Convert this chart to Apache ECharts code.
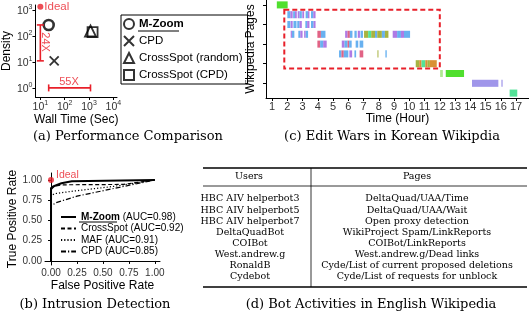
<!DOCTYPE html>
<html>
<head>
<meta charset="utf-8">
<script src="https://cdn.jsdelivr.net/npm/echarts@6/dist/echarts.min.js"></script>
<style>
  html, body { margin: 0; padding: 0; background: #fff; }
  #main { width: 529px; height: 313px; }
</style>
</head>
<body>
<div id="main"></div>
<script>
// (a) performance comparison
var perfMethods = ['M-Zoom', 'CPD', 'CrossSpot (random)', 'CrossSpot (CPD)'];
var perfTime = [22, 37, 1150, 1400];
var perfDensity = [265, 11, 155, 140];
var perfIdeal = [10, 1340];
var timeTicks = [10, 100, 1000, 10000];
var densityTicks = [1, 10, 100, 1000];

// (b) intrusion detection ROC
var rocNames = ['M-Zoom (AUC=0.98)', 'CrossSpot (AUC=0.92)', 'MAF (AUC=0.91)', 'CPD (AUC=0.85)'];
var rocFpr = [
  [0, 0, 0.02, 0.1, 0.2, 1],
  [0, 0, 0.03, 0.1, 0.7, 1],
  [0, 0, 0.03, 0.2, 0.6, 1],
  [0, 0, 0.05, 0.25, 1]
];
var rocTpr = [
  [0, 0.9, 0.92, 0.96, 0.985, 1],
  [0, 0.88, 0.92, 0.94, 0.945, 1],
  [0, 0.8, 0.83, 0.86, 0.92, 1],
  [0, 0.68, 0.72, 0.8, 1]
];
var rocIdeal = [0, 1];
var rateTicks = [0, 0.25, 0.5, 0.75, 1];

// (c) edit wars: [page row, start hour, end hour, user]
var pageIds = ['p0', 'p1', 'p2', 'p3', 'p4', 'p5', 'p6', 'p7', 'p8', 'p9'];
var editSessions = [
  [0, 1.31, 2.02, 0],
  [1, 2.0, 2.2, 1], [1, 2.2, 2.35, 2], [1, 2.38, 2.5, 1], [1, 2.5, 2.62, 2], [1, 2.68, 2.8, 2],
  [1, 2.8, 2.95, 1], [1, 2.98, 3.1, 2], [1, 3.2, 3.35, 1], [1, 3.35, 3.45, 2], [1, 3.55, 3.7, 1], [1, 3.7, 3.85, 2],
  [2, 2.0, 2.2, 1], [2, 2.22, 2.35, 2], [2, 2.4, 2.6, 1], [2, 2.65, 2.8, 1], [2, 2.8, 2.95, 2],
  [2, 3.18, 3.3, 1], [2, 3.3, 3.45, 2], [2, 3.55, 3.72, 1], [2, 3.72, 3.85, 2],
  [3, 2.22, 2.3, 2], [3, 2.3, 2.46, 1], [3, 2.72, 2.85, 1], [3, 2.85, 3.0, 2], [3, 3.1, 3.2, 2], [3, 3.2, 3.36, 1],
  [3, 3.97, 4.2, 3], [3, 4.2, 4.5, 1], [3, 5.79, 5.95, 2], [3, 5.95, 6.1, 3], [3, 6.1, 6.27, 1],
  [3, 6.4, 6.55, 1], [3, 6.62, 6.76, 2], [3, 6.8, 6.96, 1], [3, 7.03, 7.3, 4], [3, 7.3, 7.5, 6],
  [3, 7.5, 7.75, 4], [3, 7.75, 7.9, 1], [3, 7.9, 8.2, 4], [3, 8.2, 8.4, 1], [3, 8.4, 8.63, 4],
  [3, 8.91, 9.2, 2], [3, 9.2, 9.45, 1], [3, 9.45, 9.65, 2], [3, 9.65, 10.05, 1],
  [4, 3.97, 4.15, 3], [4, 4.15, 4.35, 1], [4, 4.35, 4.58, 2], [4, 5.57, 5.75, 2], [4, 5.75, 5.95, 1],
  [4, 5.95, 6.05, 3], [4, 6.05, 6.22, 1], [4, 6.48, 6.65, 1], [4, 6.74, 6.98, 1],
  [5, 5.39, 5.55, 1], [5, 5.55, 5.7, 3], [5, 5.7, 6.0, 1], [5, 6.07, 6.25, 2], [5, 6.4, 6.51, 1],
  [5, 6.74, 6.98, 3], [5, 7.91, 7.97, 4], [5, 8.43, 8.52, 1],
  [6, 10.42, 10.65, 4], [6, 10.65, 10.8, 5], [6, 10.8, 11.05, 6], [6, 11.05, 11.2, 5], [6, 11.2, 11.35, 4], [6, 11.35, 11.8, 5],
  [7, 12.02, 12.2, 8], [7, 12.39, 13.59, 0],
  [8, 14.11, 15.84, 7], [8, 16.04, 16.12, 7],
  [9, 16.58, 17.08, 6]
];
var warBox = [1.8, 12, 1, 6];
var hourTicks = [1, 2, 3, 4, 5, 6, 7, 8, 9, 10, 11, 12, 13, 14, 15, 16, 17];

// (d) bot activities table
var botUsers = ['HBC AIV helperbot3', 'HBC AIV helperbot5', 'HBC AIV helperbot7', 'DeltaQuadBot',
  'COIBot', 'West.andrew.g', 'RonaldB', 'Cydebot'];
var botPages = ['DeltaQuad/UAA/Time', 'DeltaQuad/UAA/Wait', 'Open proxy detection', 'WikiProject Spam/LinkReports',
  'COIBot/LinkReports', 'West.andrew.g/Dead links', 'Cyde/List of current proposed deletions',
  'Cyde/List of requests for unblock'];

var SANS = '"Liberation Sans", Arial, Helvetica, sans-serif';
var SERIF = '"DejaVu Serif", serif';
var RED = '#e8202a';
var userColors = ['#3ddc17', '#58a8ee', '#a66de2', '#de5278', '#9dab2c', '#d5841f', '#40df8c', '#968be8', '#a6e786'];

var chart = echarts.init(document.getElementById('main'));

function baseAxis(extra) {
  var ax = {
    axisLine: { show: true, lineStyle: { color: '#000', width: 1 } },
    axisTick: { show: true, length: 3, lineStyle: { color: '#000' } },
    axisLabel: { color: '#333', fontSize: 10, margin: 3, fontFamily: SANS },
    splitLine: { show: false },
    nameTextStyle: { fontSize: 12, color: '#000', fontFamily: SANS }
  };
  for (var k in extra) {
    if (typeof extra[k] === 'object' && !Array.isArray(extra[k]) && ax[k]) {
      ax[k] = Object.assign({}, ax[k], extra[k]);
    } else {
      ax[k] = extra[k];
    }
  }
  return ax;
}

var powLabel = {
  formatter: function (v) { return '{b|10}{s|' + Math.round(Math.log10(v)) + '}'; },
  rich: {
    b: { fontSize: 10.5, color: '#333', lineHeight: 13, verticalAlign: 'bottom' },
    s: { fontSize: 7, color: '#333', lineHeight: 13, verticalAlign: 'top' }
  }
};

var perfMarkers = [
  { symbol: 'circle', size: 10, width: 2.6 },
  { symbol: 'path://M0,0L10,10M10,0L0,10', size: 9, width: 1.8 },
  { symbol: 'triangle', size: 11, width: 1.8 },
  { symbol: 'rect', size: 10, width: 1.8 }
];

var series = [];

perfMethods.forEach(function (name, i) {
  series.push({
    name: name,
    type: 'scatter',
    xAxisIndex: 0, yAxisIndex: 0,
    symbol: perfMarkers[i].symbol,
    symbolSize: perfMarkers[i].size,
    itemStyle: { color: 'rgba(0,0,0,0)', borderColor: '#000', borderWidth: perfMarkers[i].width },
    data: [[perfTime[i], perfDensity[i]]]
  });
});

series.push({
  type: 'scatter', xAxisIndex: 0, yAxisIndex: 0,
  symbolSize: 6, itemStyle: { color: RED },
  label: { show: true, position: 'right', distance: 1, formatter: 'Ideal', color: RED, fontSize: 11.5, fontFamily: SANS },
  data: [perfIdeal]
});

// 24X gap between M-Zoom and CPD density
series.push({
  type: 'line', xAxisIndex: 0, yAxisIndex: 0,
  symbol: 'rect', symbolSize: [7, 1.6],
  lineStyle: { color: RED, width: 1.6 }, itemStyle: { color: RED },
  data: [[perfIdeal[0], perfDensity[0]], [perfIdeal[0], perfDensity[1]]]
});
// 55X gap between M-Zoom and CrossSpot time
series.push({
  type: 'line', xAxisIndex: 0, yAxisIndex: 0,
  symbol: 'rect', symbolSize: [1.6, 7],
  lineStyle: { color: RED, width: 1.6 }, itemStyle: { color: RED },
  data: [[perfTime[0], 1], [perfTime[2], 1]]
});
series.push({
  type: 'scatter', xAxisIndex: 0, yAxisIndex: 0, symbolSize: 0,
  label: { show: true, position: 'inside', color: RED, fontSize: 11, fontFamily: SANS,
    formatter: function (p) { return p.data[2]; }, rotate: 0 },
  data: [[150, 1.75, '55X']]
});
series.push({
  type: 'scatter', xAxisIndex: 0, yAxisIndex: 0, symbolSize: 0,
  label: { show: true, position: 'inside', color: RED, fontSize: 11, fontFamily: SANS,
    formatter: function (p) { return p.data[2]; }, rotate: -90 },
  data: [[15.5, 58, '24X']]
});

var rocStyles = [
  { width: 2, type: 'solid' },
  { width: 1.2, type: [4, 2.5] },
  { width: 1.2, type: [1.2, 2] },
  { width: 1.2, type: [5, 2, 1.2, 2] }
];
rocNames.forEach(function (name, i) {
  series.push({
    name: name,
    type: 'line', xAxisIndex: 1, yAxisIndex: 1,
    symbol: 'none', showSymbol: false,
    lineStyle: { color: '#000', width: rocStyles[i].width, type: rocStyles[i].type },
    itemStyle: { color: '#000' },
    data: rocFpr[i].map(function (f, j) { return [f, rocTpr[i][j]]; })
  });
});
series.push({
  type: 'scatter', xAxisIndex: 1, yAxisIndex: 1,
  symbolSize: 6, itemStyle: { color: RED },
  label: { show: true, position: 'right', distance: 2, offset: [0, -5], formatter: 'Ideal', color: RED, fontSize: 10.5, fontFamily: SANS },
  data: [rocIdeal]
});

series.push({
  type: 'custom', xAxisIndex: 2, yAxisIndex: 2,
  encode: { x: [1, 2], y: 0 },
  renderItem: function (params, api) {
    var a = api.coord([api.value(1), api.value(0)]);
    var b = api.coord([api.value(2), api.value(0)]);
    var h = api.size([0, 1])[1] * 0.72;
    return {
      type: 'rect',
      shape: { x: a[0], y: a[1] - h / 2, width: Math.max(b[0] - a[0], 1), height: h },
      style: { fill: userColors[api.value(3)], opacity: 0.9 }
    };
  },
  data: editSessions
});
series.push({
  type: 'custom', xAxisIndex: 2, yAxisIndex: 2,
  encode: { x: [0, 1], y: [2, 3] },
  renderItem: function (params, api) {
    var band = api.size([0, 1])[1];
    var a = api.coord([api.value(0), api.value(2)]);
    var b = api.coord([api.value(1), api.value(3)]);
    return {
      type: 'rect',
      shape: { x: a[0], y: a[1] - band / 2, width: b[0] - a[0], height: b[1] - a[1] + band },
      style: { fill: 'none', stroke: RED, lineWidth: 2, lineDash: [5, 3] }
    };
  },
  data: [warBox]
});

var graphic = [];
function caption(text, x, y) {
  graphic.push({ type: 'text', x: x, y: y,
    style: { text: text, font: '13px ' + SERIF, fill: '#000', align: 'center', verticalAlign: 'middle' } });
}
caption('(a) Performance Comparison', 128, 137);
caption('(c) Edit Wars in Korean Wikipdia', 392, 137);
caption('(b) Intrusion Detection', 95, 305);
caption('(d) Bot Activities in English Wikipedia', 371, 305);

function hline(x1, x2, y, w) {
  graphic.push({ type: 'line', shape: { x1: x1, y1: y, x2: x2, y2: y }, style: { stroke: '#000', lineWidth: w } });
}
hline(203, 527, 168, 1.5);
hline(203, 527, 186, 0.8);
hline(203, 527, 287, 1.5);
graphic.push({ type: 'line', shape: { x1: 311, y1: 168, x2: 311, y2: 287 }, style: { stroke: '#000', lineWidth: 0.8 } });
function cell(text, x, y) {
  graphic.push({ type: 'text', x: x, y: y,
    style: { text: text, font: '9.5px ' + SERIF, fill: '#000', align: 'center', verticalAlign: 'middle' } });
}
cell('Users', 249, 177);
cell('Pages', 417, 177);
botUsers.forEach(function (u, i) {
  cell(u, 250, 199 + i * 11.1);
  cell(botPages[i], 417, 199 + i * 11.1);
});
// underline M-Zoom in legends
hline(138, 179, 31, 1);
hline(79, 117, 222, 1);

chart.setOption({
  animation: false,
  backgroundColor: '#fff',
  textStyle: { fontFamily: SANS },
  grid: [
    { left: 33, top: 5, width: 84, height: 92 },
    { left: 45, top: 173, width: 115, height: 92 },
    { left: 266, top: 0, width: 263, height: 98 }
  ],
  xAxis: [
    baseAxis({ type: 'log', gridIndex: 0, min: 6.3, max: 14125,
      name: 'Wall Time (Sec)', nameLocation: 'middle', nameGap: 14,
      axisTick: { customValues: timeTicks },
      axisLabel: Object.assign({ customValues: timeTicks }, powLabel) }),
    baseAxis({ type: 'value', gridIndex: 1, min: -0.058, max: 1.05,
      name: 'False Positive Rate', nameLocation: 'middle', nameGap: 15,
      axisTick: { customValues: rateTicks },
      axisLabel: { customValues: rateTicks, formatter: function (v) { return v.toFixed(2); } } }),
    baseAxis({ type: 'value', gridIndex: 2, min: 0.6, max: 17.85,
      name: 'Time (Hour)', nameLocation: 'middle', nameGap: 13,
      axisTick: { customValues: hourTicks },
      axisLabel: { customValues: hourTicks, fontSize: 11 } })
  ],
  yAxis: [
    baseAxis({ type: 'log', gridIndex: 0, min: 0.447, max: 1550,
      name: 'Density', nameLocation: 'middle', nameGap: 20,
      axisTick: { customValues: densityTicks },
      axisLabel: Object.assign({ customValues: densityTicks }, powLabel) }),
    baseAxis({ type: 'value', gridIndex: 1, min: -0.05, max: 1.086,
      name: 'True Positive Rate', nameLocation: 'middle', nameGap: 24,
      axisTick: { customValues: rateTicks },
      axisLabel: { customValues: rateTicks, formatter: function (v) { return v.toFixed(2); } } }),
    baseAxis({ type: 'category', gridIndex: 2, data: pageIds, inverse: true,
      name: 'Wikipedia Pages', nameLocation: 'middle', nameGap: 9,
      axisTick: { alignWithLabel: true },
      axisLabel: { show: false } })
  ],
  legend: [
    {
      data: perfMethods, orient: 'vertical', left: 121, top: 15,
      padding: [3, 5, 3, 2], itemWidth: 10, itemHeight: 10, itemGap: 5, itemTextGap: 4,
      borderColor: '#000', borderWidth: 1, selectedMode: false,
      textStyle: { fontSize: 11.5, color: '#000', fontFamily: SANS,
        rich: { b: { fontSize: 11.5, fontWeight: 'bold', color: '#000', fontFamily: SANS } } },
      formatter: function (n) { return n === 'M-Zoom' ? '{b|M-Zoom}' : n; }
    },
    {
      data: rocNames.map(function (n) { return { name: n, itemStyle: { opacity: 0 } }; }),
      orient: 'vertical', left: 60, top: 212,
      padding: 0, itemWidth: 15, itemHeight: 8, itemGap: 1.5, selectedMode: false,
      itemStyle: { opacity: 0 },
      textStyle: { fontSize: 10, color: '#000', fontFamily: SANS,
        rich: { b: { fontSize: 10, fontWeight: 'bold', color: '#000', fontFamily: SANS } } },
      formatter: function (n) { return n.indexOf('M-Zoom') === 0 ? '{b|M-Zoom}' + n.slice(6) : n; }
    }
  ],
  series: series,
  graphic: graphic
});
</script>
</body>
</html>
